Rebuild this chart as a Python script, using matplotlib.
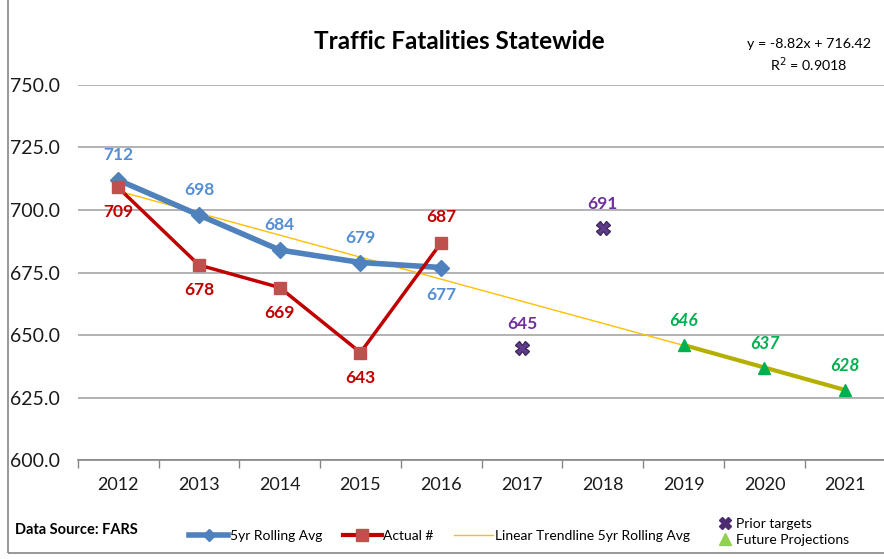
import matplotlib.pyplot as plt
from matplotlib.lines import Line2D
from matplotlib.patches import Rectangle

years = ['2012', '2013', '2014', '2015', '2016', '2017', '2018', '2019', '2020', '2021']
rolling_avg = [712, 698, 684, 679, 677]
actual = [709, 678, 669, 643, 687]
prior_years = [5, 6]
prior_vals = [645, 693]
prior_labels = ['645', '691']
future_years = [7, 8, 9]
future_vals = [646, 637, 628]
trend_x = [0, 9]
trend_y = [707.6, 628.2]
yticks = [600, 625, 650, 675, 700, 725, 750]

plt.rcParams['font.family'] = ['Lato', 'DejaVu Sans']

fig = plt.figure(figsize=(8.84, 5.59), dpi=100, facecolor='w')
ax = fig.add_axes([0.0879, 0.177, 0.914, 0.671])

xx = list(range(len(rolling_avg)))

# trendline + projections
ax.plot(trend_x, trend_y, color='#FFC000', lw=1.0, zorder=2)
ax.plot(future_years, future_vals, color='#B5B000', lw=3, zorder=3,
        marker='^', ms=9, mfc='#00B050', mec='#00B050')

ax.plot(xx, rolling_avg, color='#4F81BD', lw=4, marker='D', ms=8,
        mfc='#4F81BD', mec='#4F81BD', zorder=5)
ax.plot(xx, actual, color='#C00000', lw=2.5, marker='s', ms=9,
        mfc='#C0504D', mec='#C0504D', zorder=6)
ax.plot(prior_years, prior_vals, ls='none', marker='X', ms=10,
        color='#5F3C8C', mec='#3F2A5C', zorder=6)

# data labels
lbl = dict(fontsize=12.5, fontweight='bold', ha='center', va='center')
for i, v in enumerate(rolling_avg):
    dy = -11 if i == 4 else 10
    ax.text(i, v + dy, str(v), color='#558ED5', **lbl)
for i, v in enumerate(actual):
    dy = 10 if i == 4 else -10
    ax.text(i, v + dy, str(v), color='#C00000', **lbl)
for x, v, t in zip(prior_years, prior_vals, prior_labels):
    ax.text(x, v + 9.5, t, color='#7030A0', **lbl)
for x, v in zip(future_years, future_vals):
    ax.text(x, v + 9.5, str(v), color='#00B050', style='italic', **lbl)

ax.set_xlim(-0.5, 9.5)
ax.set_ylim(600, 750)
ax.set_yticks(yticks)
ax.set_yticklabels(['%.1f' % t for t in yticks])
ax.set_xticks(range(10))
ax.set_xticklabels(years)
ax.set_xticks([i - 0.5 for i in range(11)], minor=True)
ax.tick_params(axis='x', which='major', length=0, pad=12, labelsize=13, labelcolor='#1a1a1a')
ax.tick_params(axis='x', which='minor', length=6, direction='out', color='#868686', width=1)
ax.tick_params(axis='y', length=0, pad=49, labelsize=14, labelcolor='#1a1a1a')
for lab in ax.get_yticklabels():
    lab.set_horizontalalignment('left')
ax.grid(axis='y', color='#a6a6a6', lw=1.2)
ax.set_axisbelow(True)
for s in ['top', 'right', 'left']:
    ax.spines[s].set_visible(False)
ax.spines['bottom'].set_color('#868686')
ax.spines['bottom'].set_linewidth(1.2)

fig.text(0.52, 0.925, 'Traffic Fatalities Statewide', fontsize=17.5, fontweight='bold',
         ha='center', va='center')
fig.text(0.915, 0.90, 'y = -8.82x + 716.42\nR$^2$ = 0.9018', fontsize=10.3,
         ha='center', va='center', multialignment='center', linespacing=1.3)

fig.text(0.017, 0.052, 'Data Source: FARS', fontsize=10.5, fontweight='bold', va='center')

h1 = [Line2D([], [], color='#4F81BD', lw=4, marker='D', ms=6),
      Line2D([], [], color='#C00000', lw=3, marker='s', ms=8, mfc='#C0504D', mec='#C0504D'),
      Line2D([], [], color='#FFC000', lw=1)]
fig.legend(h1, ['5yr Rolling Avg', 'Actual #', 'Linear Trendline 5yr Rolling Avg'],
           loc='center left', bbox_to_anchor=(0.2, 0.042), ncol=3, frameon=False,
           fontsize=10, handlelength=2.8, handletextpad=0.1, columnspacing=1.5)
h2 = [Line2D([], [], ls='none', marker='X', ms=9, color='#4B2C70'),
      Line2D([], [], ls='none', marker='^', ms=9, color='#92D050')]
fig.legend(h2, ['Prior targets', 'Future Projections'], loc='center left',
           bbox_to_anchor=(0.8, 0.049), frameon=False, fontsize=10,
           handlelength=0.8, handletextpad=0.4, labelspacing=0.3)

# chart border (cropped at top/right in the source)
fig.patches.append(Rectangle((0.009, 0.011), 1.2, 1.2, transform=fig.transFigure,
                             fill=False, edgecolor='#868686', lw=1.2))

fig.savefig('out.png', dpi=100)
